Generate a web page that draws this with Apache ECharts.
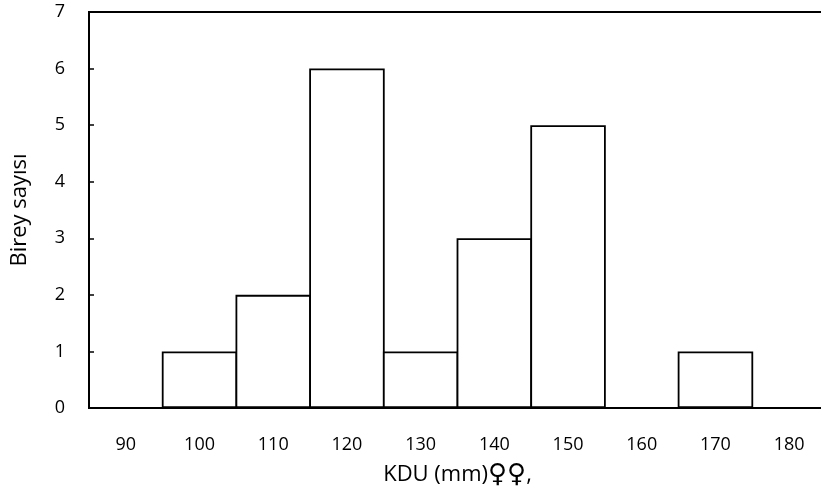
<!DOCTYPE html>
<html>
<head>
<meta charset="utf-8">
<script src="https://cdn.jsdelivr.net/npm/echarts@6/dist/echarts.min.js"></script>
<style>html,body{margin:0;padding:0;background:#fff}#c{width:821px;height:502px}</style>
</head>
<body>
<div id="c"></div>
<script>
const categories = ['90','100','110','120','130','140','150','160','170','180'];
const counts = [0,1,2,6,1,3,5,0,1,0];
const yTicks = {min:0, max:7, interval:1};
const font = 'Open Sans';
const chart = echarts.init(document.getElementById('c'), null, {renderer:'canvas'});
chart.setOption({
  animation:false,
  backgroundColor:'#fff',
  grid:{left:89, right:-5, top:12, bottom:94, containLabel:false, outerBoundsMode:'none',
        show:true, borderColor:'#000', borderWidth:2, backgroundColor:'transparent'},
  xAxis:{
    type:'category', data:categories, boundaryGap:true,
    name:'KDU (mm){s|♀♀},', nameLocation:'middle', nameGap:54,
    nameTextStyle:{fontFamily:font, fontSize:22, color:'#000',
      rich:{s:{fontFamily:'DejaVu Sans', fontSize:26, color:'#000'}}},
    axisLine:{lineStyle:{color:'#000', width:2}},
    axisTick:{inside:true, alignWithLabel:true, length:5, lineStyle:{color:'#000', width:1.5}},
    axisLabel:{fontFamily:font, fontSize:18, color:'#000', margin:28}
  },
  yAxis:{
    type:'value', min:yTicks.min, max:yTicks.max, interval:yTicks.interval,
    name:'Birey sayısı', nameLocation:'middle', nameGap:58,
    nameTextStyle:{fontFamily:font, fontSize:22, color:'#000'},
    splitLine:{show:false},
    axisLine:{show:true, lineStyle:{color:'#000', width:2}},
    axisTick:{show:true, inside:true, length:5, lineStyle:{color:'#000', width:1.5}},
    axisLabel:{fontFamily:font, fontSize:18, color:'#000', margin:24}
  },
  series:[{
    type:'bar', data:counts, barCategoryGap:'0%', barWidth:75.5,
    itemStyle:{color:'#fff', borderColor:'#000', borderWidth:1.8}
  }]
});
</script>
</body>
</html>
